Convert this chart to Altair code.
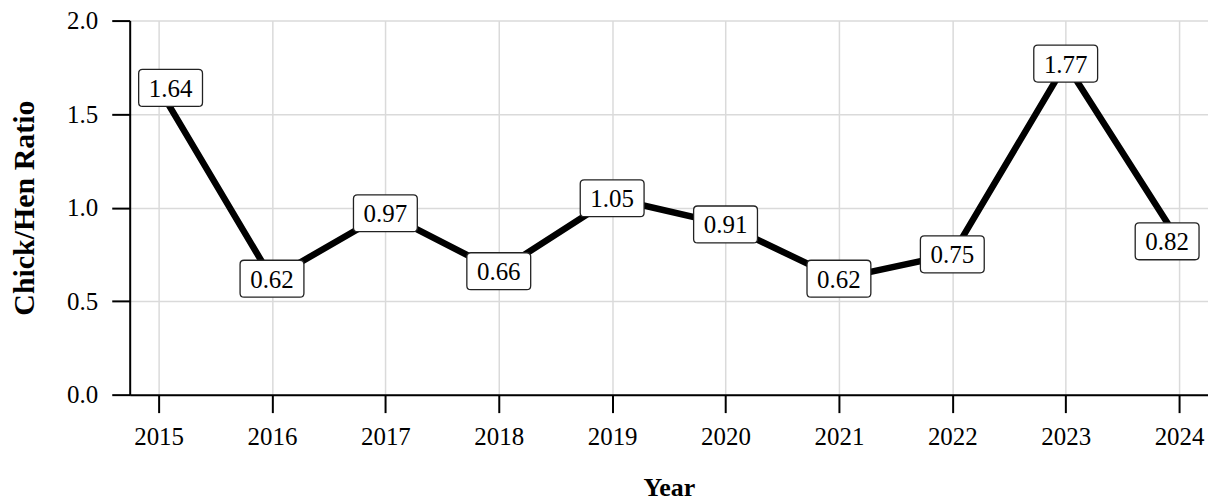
import altair as alt
import pandas as pd

years = [2015, 2016, 2017, 2018, 2019, 2020, 2021, 2022, 2023, 2024]
ratios = [1.64, 0.62, 0.97, 0.66, 1.05, 0.91, 0.62, 0.75, 1.77, 0.82]
y_ticks = [0.0, 0.5, 1.0, 1.5, 2.0]

df = pd.DataFrame({"Year": years, "Ratio": ratios})

FONT = "Liberation Serif"


def box_path(shift):
    hw, hh, r = 1.0, 0.578, 0.125
    pts = [
        f"M{-hw + r + shift},{-hh}",
        f"L{hw - r + shift},{-hh}",
        f"Q{hw + shift},{-hh} {hw + shift},{-hh + r}",
        f"L{hw + shift},{hh - r}",
        f"Q{hw + shift},{hh} {hw - r + shift},{hh}",
        f"L{-hw + r + shift},{hh}",
        f"Q{-hw + shift},{hh} {-hw + shift},{hh - r}",
        f"L{-hw + shift},{-hh + r}",
        f"Q{-hw + shift},{-hh} {-hw + r + shift},{-hh}",
        "Z",
    ]
    return " ".join(pts)


x_enc = alt.X(
    "Year:Q",
    scale=alt.Scale(domain=[2014.745, 2024.255], nice=False, zero=False),
    axis=alt.Axis(values=years, format="d", title="Year"),
)
y_enc = alt.Y(
    "Ratio:Q",
    scale=alt.Scale(domain=[0, 2], nice=False),
    axis=alt.Axis(values=y_ticks, format=".1f", title="Chick/Hen Ratio"),
)

base = alt.Chart(df).encode(x=x_enc, y=y_enc)

line = base.mark_line(color="black", strokeWidth=6.5, strokeJoin="round")

first_f = alt.datum.Year == years[0]
last_f = alt.datum.Year == years[-1]
mid_f = (alt.datum.Year != years[0]) & (alt.datum.Year != years[-1])

shift_units = 0.375  # 12 px
text_props = dict(font=FONT, fontSize=25, color="black", baseline="middle", align="center", dy=1)


def boxes(filt, shift):
    return base.transform_filter(filt).mark_point(
        shape=box_path(shift), size=4096, filled=True, fill="white",
        stroke="#222222", strokeWidth=1.3, opacity=1,
    )


def labels(filt, dx):
    return base.transform_filter(filt).mark_text(dx=dx, **text_props).encode(
        text=alt.Text("Ratio:Q", format=".2f")
    )


chart = alt.layer(
    line,
    boxes(mid_f, 0), boxes(first_f, shift_units), boxes(last_f, -shift_units),
    labels(mid_f, 0), labels(first_f, 12), labels(last_f, -12),
).properties(
    width=1081, height=375,
    padding={"left": 1, "top": 0, "right": 0, "bottom": 0},
    background="white",
).configure_view(stroke=None).configure_axis(
    labelFont=FONT, titleFont=FONT, labelFontSize=25, labelColor="black",
    titleColor="black", titleFontWeight="bold",
    domainColor="black", domainWidth=2, tickColor="black", tickWidth=2,
    tickSize=18, gridColor="#dadada", gridWidth=1.5, grid=True,
).configure_axisX(
    labelPadding=12, titlePadding=25, titleFontSize=26,
).configure_axisY(
    labelPadding=14, titlePadding=27, titleFontSize=30,
)

chart.save("out.html", embed_options={"renderer": "svg", "actions": False})
